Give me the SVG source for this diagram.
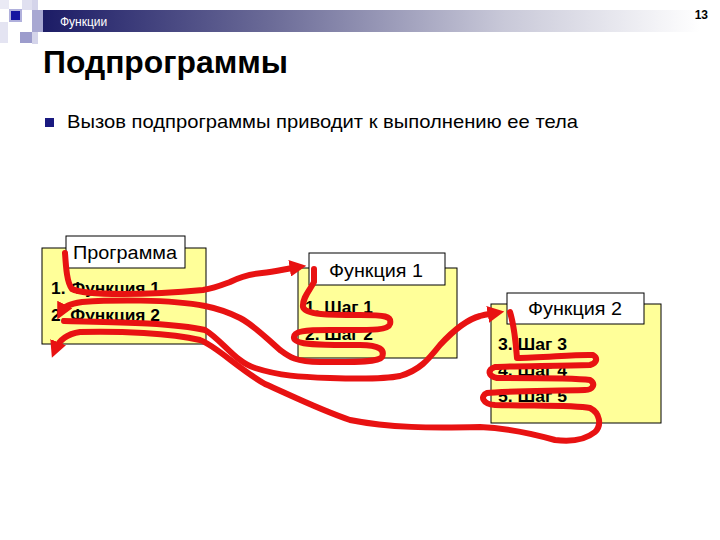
<svg xmlns="http://www.w3.org/2000/svg" width="720" height="540" viewBox="0 0 720 540">
<defs>
<linearGradient id="bar" x1="43" y1="0" x2="700" y2="0" gradientUnits="userSpaceOnUse">
<stop offset="0" stop-color="#1c1c66"/>
<stop offset="0.35" stop-color="#6c6c98"/>
<stop offset="0.7" stop-color="#c8c8d8"/>
<stop offset="1" stop-color="#ffffff"/>
</linearGradient>
<marker id="ah" viewBox="0 0 10 10" refX="5" refY="5" markerWidth="2.8" markerHeight="2.8" orient="auto" markerUnits="strokeWidth">
<path d="M0,0 L10,5 L0,10 z" fill="#e81212"/>
</marker>
</defs>
<style>
.sans{font-family:"Liberation Sans",Arial,sans-serif}
.box{fill:#ffff99;stroke:#000;stroke-width:1}
.lbl{fill:#fff;stroke:#000;stroke-width:1}
.lt{font-size:18px;fill:#000}
.it{font-size:16px;font-weight:bold;fill:#000}
.red{fill:none;stroke:#e81212;stroke-width:6;stroke-linecap:round;stroke-linejoin:round}
</style>
<rect width="720" height="540" fill="#fff"/>
<g id="header">
<rect x="0" y="0" width="9" height="9" fill="#eaeaf5"/>
<rect x="22" y="0" width="10" height="10" fill="#e0e0f0"/>
<rect x="0" y="22" width="8" height="21" fill="#e4e4f2"/>
<rect x="32" y="0" width="6" height="44" fill="#d4d4ea"/>
<rect x="32" y="10" width="11" height="22" fill="#a8a8d2"/>
<rect x="20" y="32" width="12" height="11" fill="#9c9ccc"/>
<rect x="9" y="9" width="13" height="13" fill="#b0b0dc"/>
<rect x="11" y="11" width="9" height="9" fill="#1414a0"/>
<rect x="43" y="10" width="660" height="22" fill="url(#bar)"/>
<text x="60" y="26" class="sans" font-size="12" fill="#fff">Функции</text>
<text x="708" y="19" class="sans" font-size="12" font-weight="bold" text-anchor="end" fill="#000">13</text>
</g>
<g id="title">
<text x="43" y="73" class="sans" font-size="31" font-weight="bold" fill="#000" textLength="245" lengthAdjust="spacingAndGlyphs">Подпрограммы</text>
</g>
<g id="bullet">
<rect x="45" y="118" width="9" height="9" fill="#1a1a80"/>
<text x="67" y="128" class="sans" font-size="19" fill="#000" textLength="511" lengthAdjust="spacingAndGlyphs">Вызов подпрограммы приводит к выполнению ее тела</text>
</g>
<g id="node-programma">
<rect x="42" y="248" width="164" height="96" class="box"/>
<rect x="66" y="236" width="119" height="32" class="lbl"/>
<text x="73" y="259" class="sans lt" textLength="104" lengthAdjust="spacingAndGlyphs">Программа</text>
<text x="51" y="294" class="sans it" textLength="109" lengthAdjust="spacingAndGlyphs">1. Функция 1</text>
<text x="51" y="321" class="sans it" textLength="109" lengthAdjust="spacingAndGlyphs">2. Функция 2</text>
</g>
<g id="node-funkciya1">
<rect x="298" y="268" width="159" height="90" class="box"/>
<rect x="309" y="253" width="136" height="32" class="lbl"/>
<text x="329" y="277" class="sans lt" textLength="94" lengthAdjust="spacingAndGlyphs">Функция 1</text>
<text x="305" y="313" class="sans it" textLength="68" lengthAdjust="spacingAndGlyphs">1. Шаг 1</text>
<text x="305" y="340" class="sans it" textLength="68" lengthAdjust="spacingAndGlyphs">2. Шаг 2</text>
</g>
<g id="node-funkciya2">
<rect x="491" y="304" width="170" height="119" class="box"/>
<rect x="507" y="293" width="137" height="31" class="lbl"/>
<text x="528" y="315" class="sans lt" textLength="94" lengthAdjust="spacingAndGlyphs">Функция 2</text>
<text x="498" y="350" class="sans it" textLength="69" lengthAdjust="spacingAndGlyphs">3. Шаг 3</text>
<text x="498" y="376" class="sans it" textLength="69" lengthAdjust="spacingAndGlyphs">4. Шаг 4</text>
<text x="498" y="402" class="sans it" textLength="69" lengthAdjust="spacingAndGlyphs">5. Шаг 5</text>
</g>
<g id="connectors">
<path class="red" marker-end="url(#ah)" d="M65,253 C66,268 67,283 72,289 C85,296 150,295 203,290 C215,288 222,285 230,282 C240,277 250,274 262,273 C275,272 285,269 298,267"/>
<path class="red" marker-end="url(#ah)" d="M314,269 L314,282 C310,290 302,298 303,307 C305,315 330,315 360,315 C385,315 392,316 390,324 C388,331 370,330 330,330 C305,330 293,331 294,338 C295,346 330,345 360,345 C380,345 385,350 382,357 C378,363 350,362 320,362 C295,362 288,356 280,350 C265,337 255,326 240,318 C228,312 220,309 205,306 C170,299 110,300 82,302 C70,304 64,306 61,312"/>
<path class="red" marker-end="url(#ah)" d="M64,321 C100,322 170,322 205,330 C222,340 235,362 255,368 C280,376 300,377 330,378 C360,379 385,379 400,376 C420,370 428,360 440,345 C452,332 465,320 480,316 C486,314 490,314 496,313"/>
<path class="red" marker-end="url(#ah)" d="M510,312 C514,325 516,345 517,358 C540,358 580,354 593,355 C598,358 597,363 590,365 C560,366 510,366 495,367 C487,370 488,376 497,378 C530,378 575,378 590,380 C596,384 593,390 585,390 C550,391 500,391 487,393 C480,396 482,404 495,405 C540,406 575,405 590,408 C600,413 602,425 595,432 C585,440 570,442 555,440 C530,433 505,428 480,427 C430,428 390,428 350,420 C320,410 290,395 265,384 C240,370 215,345 200,340 C170,333 120,331 80,332 C66,334 59,340 55,350"/>
</g>
</svg>
